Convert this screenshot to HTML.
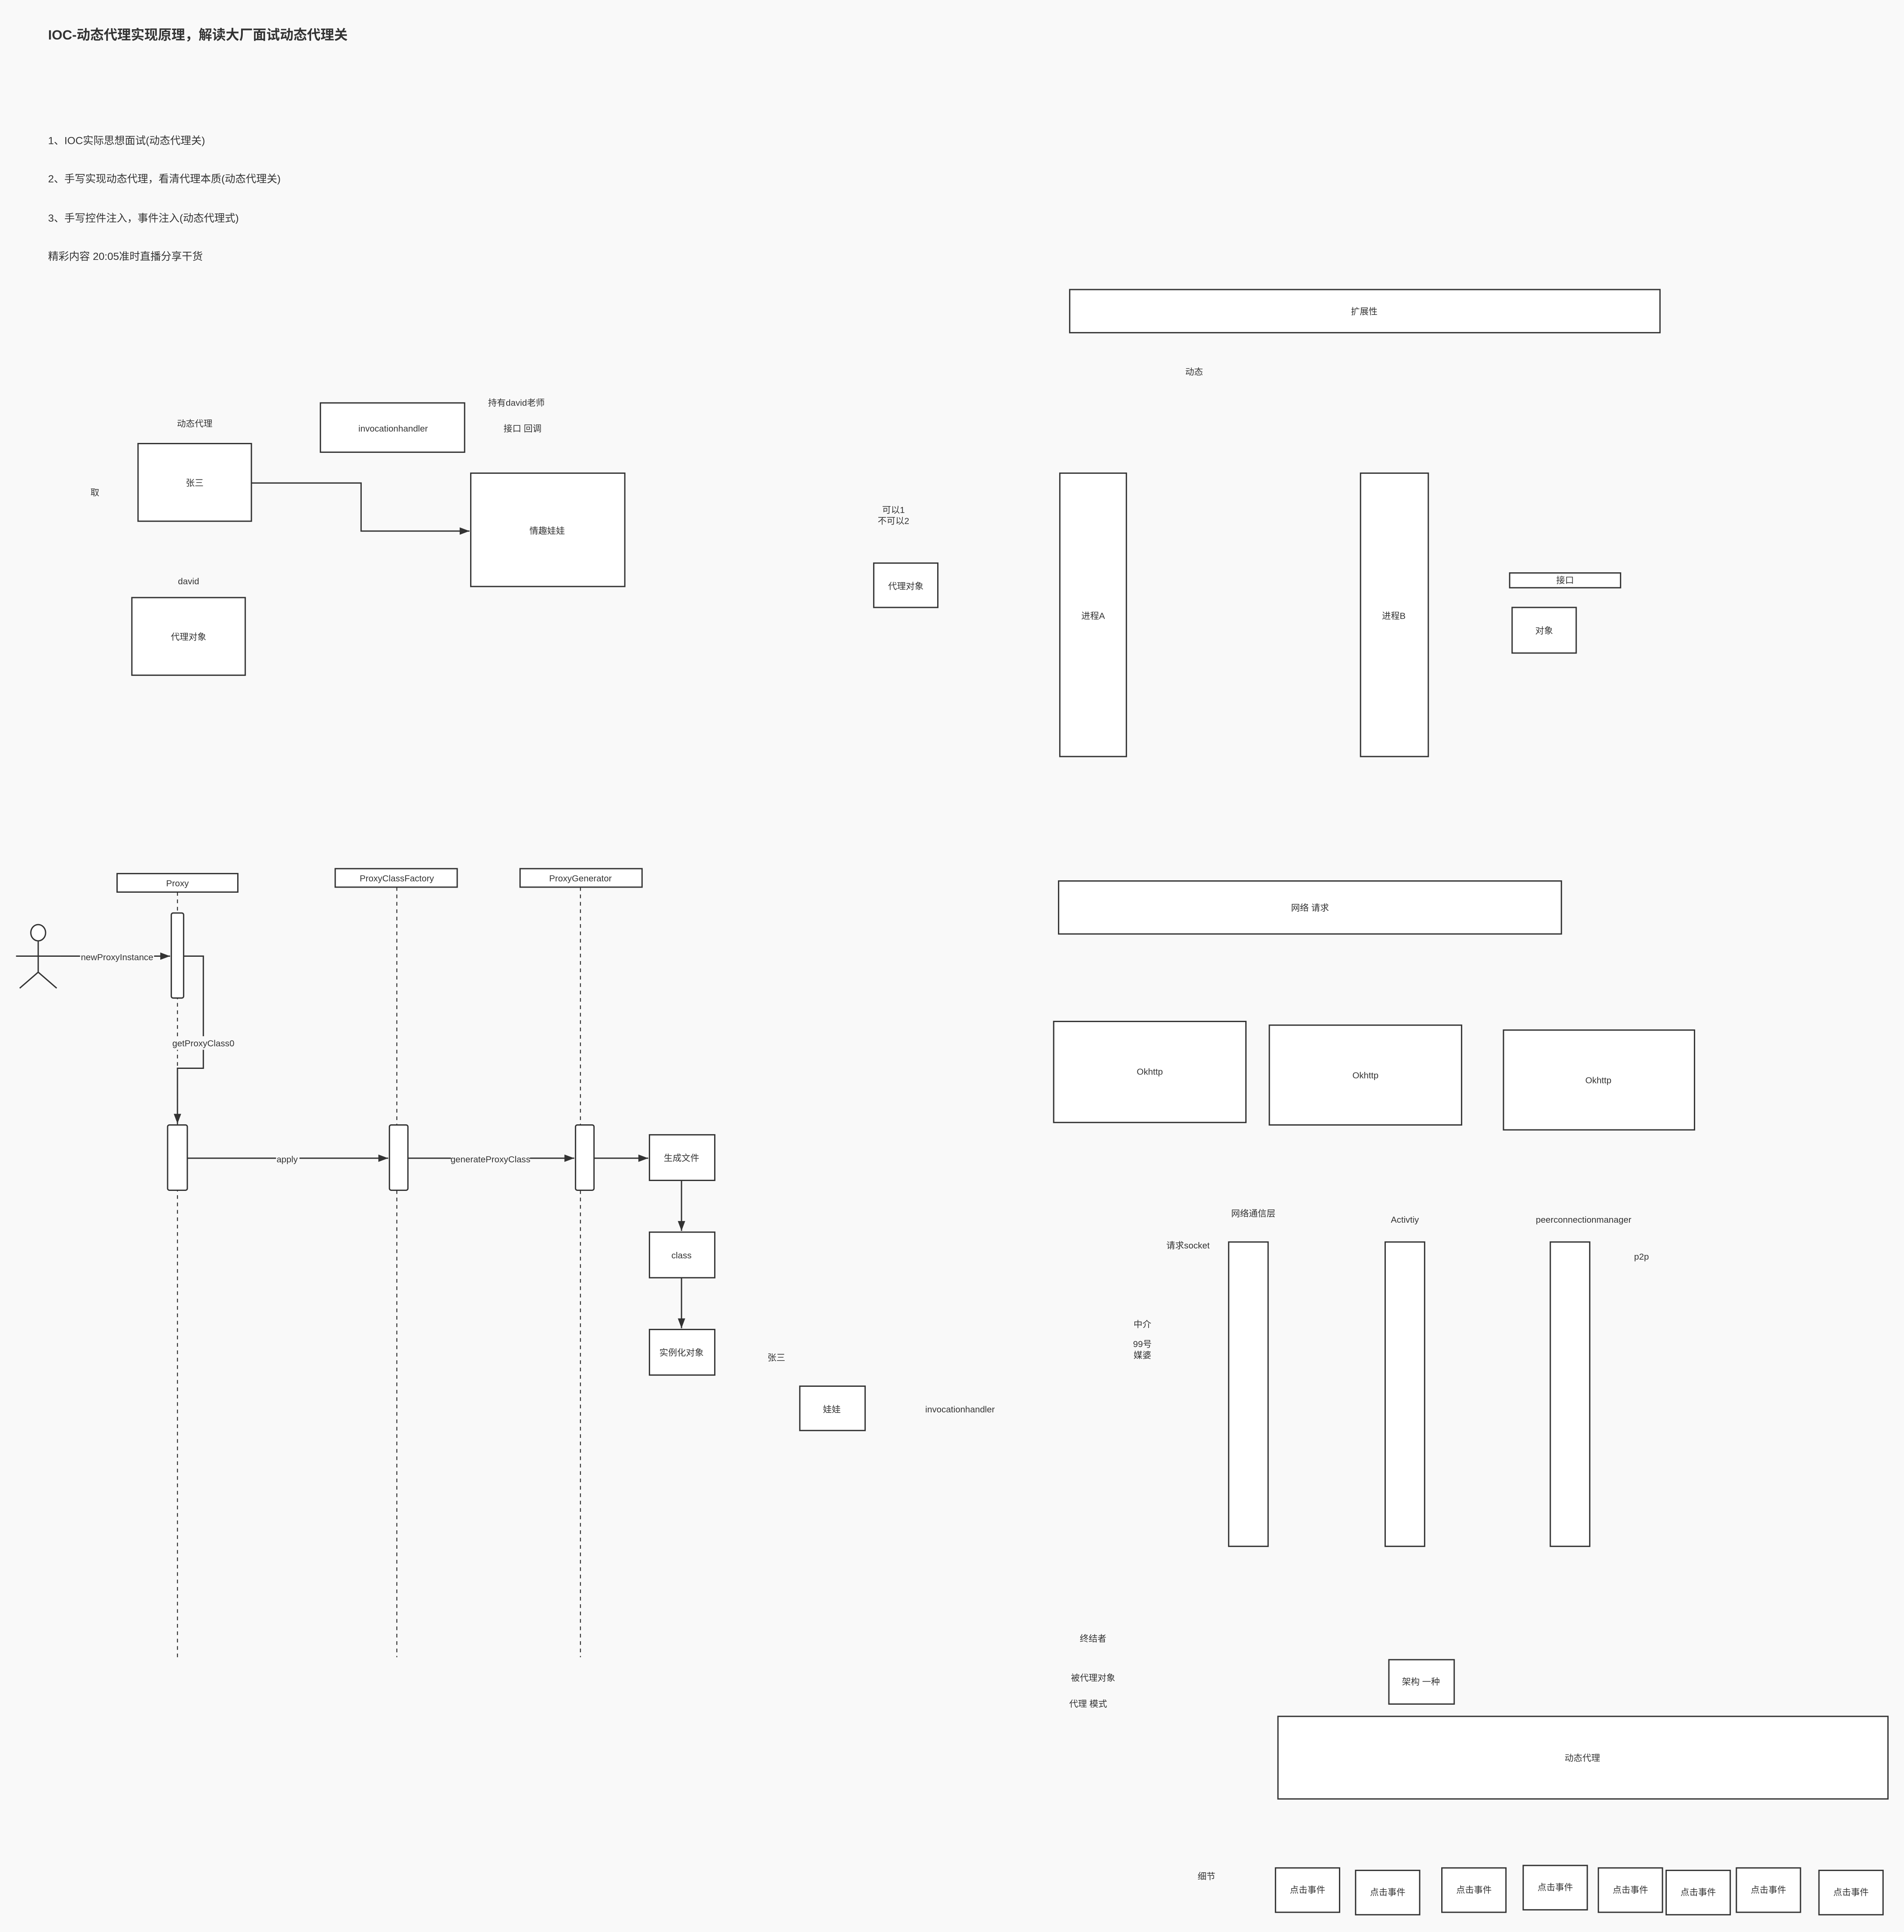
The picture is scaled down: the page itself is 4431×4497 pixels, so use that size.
<!DOCTYPE html>
<html><head><meta charset="utf-8"><style>
html,body{margin:0;padding:0;background:#f9f9f9;}
svg{display:block;}
text{font-family:"Liberation Sans","Noto Sans CJK SC",sans-serif;fill:#333;}
.b{fill:#fff;stroke:#333;stroke-width:1.05;}
.l{fill:none;stroke:#333;stroke-width:1.05;}
.d{fill:none;stroke:#333;stroke-width:0.8;stroke-dasharray:3,3;}
.s{font-size:7.2px;text-anchor:middle;dominant-baseline:central;}
.m{font-size:8.5px;}
</style></head><body>
<svg width="4431" height="4497" viewBox="0 0 1545 1568" xmlns="http://www.w3.org/2000/svg">
<defs><marker id="a" markerWidth="8" markerHeight="6" refX="8" refY="3" orient="auto" markerUnits="userSpaceOnUse"><path d="M0,0 L8,3 L0,6z" fill="#333"/></marker></defs>
<rect width="1545" height="1568" fill="#f9f9f9"/>
<text x="39" y="32" style="font-size:11px;font-weight:bold">IOC-动态代理实现原理，解读大厂面试动态代理关</text>
<text class="m" x="39" y="117">1、IOC实际思想面试(动态代理关)</text>
<text class="m" x="39" y="148">2、手写实现动态代理，看清代理本质(动态代理关)</text>
<text class="m" x="39" y="180">3、手写控件注入，事件注入(动态代理式)</text>
<text class="m" x="39" y="211">精彩内容 20:05准时直播分享干货</text>

<text class="s" x="158" y="344">动态代理</text>
<rect class="b" x="112" y="360" width="92" height="63"/><text class="s" x="158" y="392">张三</text>
<text class="s" x="77" y="400">取</text>
<rect class="b" x="260" y="327" width="117" height="40"/><text class="s" x="319" y="348">invocationhandler</text>
<text class="s" x="419" y="327">持有david老师</text>
<text class="s" x="424" y="348">接口 回调</text>
<rect class="b" x="382" y="384" width="125" height="92"/><text class="s" x="444" y="431">情趣娃娃</text>
<path class="l" d="M204,392 H293 V431 H381" marker-end="url(#a)"/>
<text class="s" x="153" y="472">david</text>
<rect class="b" x="107" y="485" width="92" height="63"/><text class="s" x="153" y="517">代理对象</text>

<text class="s" x="725" y="414">可以1</text><text class="s" x="725" y="423">不可以2</text>
<rect class="b" x="709" y="457" width="52" height="36"/><text class="s" x="735" y="476">代理对象</text>
<rect class="b" x="868" y="235" width="479" height="35"/><text class="s" x="1107" y="253">扩展性</text>
<text class="s" x="969" y="302">动态</text>
<rect class="b" x="860" y="384" width="54" height="230"/><text class="s" x="887" y="500">进程A</text>
<rect class="b" x="1104" y="384" width="55" height="230"/><text class="s" x="1131" y="500">进程B</text>
<rect class="b" x="1225" y="465" width="90" height="12"/><text class="s" x="1270" y="471">接口</text>
<rect class="b" x="1227" y="493" width="52" height="37"/><text class="s" x="1253" y="512">对象</text>

<!-- sequence -->
<path class="d" d="M144,724 V1348"/><path class="d" d="M322,720 V1345"/><path class="d" d="M471,720 V1345"/>
<rect class="b" x="95" y="709" width="98" height="15"/><text class="s" x="144" y="717">Proxy</text>
<rect class="b" x="272" y="705" width="99" height="15"/><text class="s" x="322" y="713">ProxyClassFactory</text>
<rect class="b" x="422" y="705" width="99" height="15"/><text class="s" x="471" y="713">ProxyGenerator</text>
<rect class="b" x="139" y="741" width="10" height="69" rx="1.5"/>
<ellipse class="b" cx="31" cy="757" rx="6" ry="6.6"/>
<path class="l" d="M31,764 V789 M16,802 L31,789 L46,802 M13,776 H49"/>
<path class="l" d="M49,776 H138" marker-end="url(#a)"/>
<rect x="65" y="771" width="60" height="11" fill="#f9f9f9"/><text class="s" x="95" y="777">newProxyInstance</text>
<path class="l" d="M149,776 H165 V867 H144 V912" marker-end="url(#a)"/>
<rect x="140" y="841" width="50" height="11" fill="#f9f9f9"/><text class="s" x="165" y="847">getProxyClass0</text>
<rect class="b" x="136" y="913" width="16" height="53" rx="1.5"/>
<rect class="b" x="316" y="913" width="15" height="53" rx="1.5"/>
<rect class="b" x="467" y="913" width="15" height="53" rx="1.5"/>
<path class="l" d="M152,940 H315" marker-end="url(#a)"/>
<rect x="224" y="935" width="19" height="11" fill="#f9f9f9"/><text class="s" x="233" y="941">apply</text>
<path class="l" d="M331,940 H466" marker-end="url(#a)"/>
<rect x="366" y="935" width="64" height="11" fill="#f9f9f9"/><text class="s" x="398" y="941">generateProxyClass</text>
<path class="l" d="M482,940 H526" marker-end="url(#a)"/>
<rect class="b" x="527" y="921" width="53" height="37"/><text class="s" x="553" y="940">生成文件</text>
<path class="l" d="M553,958 V999" marker-end="url(#a)"/>
<rect class="b" x="527" y="1000" width="53" height="37"/><text class="s" x="553" y="1019">class</text>
<path class="l" d="M553,1037 V1078" marker-end="url(#a)"/>
<rect class="b" x="527" y="1079" width="53" height="37"/><text class="s" x="553" y="1098">实例化对象</text>
<text class="s" x="630" y="1102">张三</text>
<rect class="b" x="649" y="1125" width="53" height="36"/><text class="s" x="675" y="1144">娃娃</text>
<text class="s" x="779" y="1144">invocationhandler</text>

<!-- right -->
<rect class="b" x="859" y="715" width="408" height="43"/><text class="s" x="1063" y="737">网络 请求</text>
<rect class="b" x="855" y="829" width="156" height="82"/><text class="s" x="933" y="870">Okhttp</text>
<rect class="b" x="1030" y="832" width="156" height="81"/><text class="s" x="1108" y="873">Okhttp</text>
<rect class="b" x="1220" y="836" width="155" height="81"/><text class="s" x="1297" y="877">Okhttp</text>
<text class="s" x="1017" y="985">网络通信层</text>
<text class="s" x="1140" y="990">Activtiy</text>
<text class="s" x="1285" y="990">peerconnectionmanager</text>
<text class="s" x="964" y="1011">请求socket</text>
<text class="s" x="1332" y="1020">p2p</text>
<rect class="b" x="997" y="1008" width="32" height="247"/>
<rect class="b" x="1124" y="1008" width="32" height="247"/>
<rect class="b" x="1258" y="1008" width="32" height="247"/>
<text class="s" x="927" y="1075">中介</text>
<text class="s" x="927" y="1091">99号</text>
<text class="s" x="927" y="1100">媒婆</text>
<text class="s" x="887" y="1330">终结者</text>
<text class="s" x="887" y="1362">被代理对象</text>
<text class="s" x="883" y="1383">代理 模式</text>
<rect class="b" x="1127" y="1347" width="53" height="36"/><text class="s" x="1153" y="1365">架构 一种</text>
<rect class="b" x="1037" y="1393" width="495" height="67"/><text class="s" x="1284" y="1427">动态代理</text>
<text class="s" x="979" y="1523">细节</text>
<rect class="b" x="1035" y="1516" width="52" height="36"/><text class="s" x="1061" y="1534">点击事件</text>
<rect class="b" x="1100" y="1518" width="52" height="36"/><text class="s" x="1126" y="1536">点击事件</text>
<rect class="b" x="1170" y="1516" width="52" height="36"/><text class="s" x="1196" y="1534">点击事件</text>
<rect class="b" x="1236" y="1514" width="52" height="36"/><text class="s" x="1262" y="1532">点击事件</text>
<rect class="b" x="1297" y="1516" width="52" height="36"/><text class="s" x="1323" y="1534">点击事件</text>
<rect class="b" x="1352" y="1518" width="52" height="36"/><text class="s" x="1378" y="1536">点击事件</text>
<rect class="b" x="1409" y="1516" width="52" height="36"/><text class="s" x="1435" y="1534">点击事件</text>
<rect class="b" x="1476" y="1518" width="52" height="36"/><text class="s" x="1502" y="1536">点击事件</text>
</svg>
</body></html>
